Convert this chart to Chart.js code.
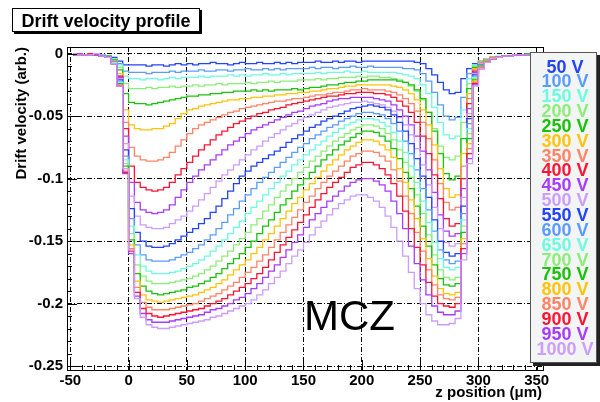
<!DOCTYPE html>
<html>
<head>
<meta charset="utf-8">
<title>Drift velocity profile</title>
<script src="https://cdn.jsdelivr.net/npm/chart.js@4.4.0/dist/chart.umd.min.js"></script>
<style>
  html, body { margin: 0; padding: 0; background: #fff; }
  #wrap { width: 600px; height: 402px; }
</style>
</head>
<body>
<div id="wrap"><canvas id="driftChart" width="600" height="402"></canvas></div>
<script>
// bin centres (um), 5 um bins from -50 to 350
const zPos = [-47.5, -42.5, -37.5, -32.5, -27.5, -22.5, -17.5, -12.5, -7.5, -2.5,
  2.5, 7.5, 12.5, 17.5, 22.5, 27.5, 32.5, 37.5, 42.5, 47.5,
  52.5, 57.5, 62.5, 67.5, 72.5, 77.5, 82.5, 87.5, 92.5, 97.5,
  102.5, 107.5, 112.5, 117.5, 122.5, 127.5, 132.5, 137.5, 142.5, 147.5,
  152.5, 157.5, 162.5, 167.5, 172.5, 177.5, 182.5, 187.5, 192.5, 197.5,
  202.5, 207.5, 212.5, 217.5, 222.5, 227.5, 232.5, 237.5, 242.5, 247.5,
  252.5, 257.5, 262.5, 267.5, 272.5, 277.5, 282.5, 287.5, 292.5, 297.5,
  302.5, 307.5, 312.5, 317.5, 322.5, 327.5, 332.5, 337.5, 342.5, 347.5];

// drift velocity (arb.) per bias voltage
const v50 = [-0.001, 0.000, -0.001, 0.000, -0.001, -0.001, -0.002,
  -0.003, -0.006, -0.009, -0.009, -0.009,
  -0.009, -0.010, -0.009, -0.009, -0.010, -0.009, -0.008, -0.009,
  -0.008, -0.009, -0.008, -0.008, -0.007, -0.008, -0.008, -0.009, -0.008, -0.007, -0.008, -0.008, -0.007, -0.008, -0.008, -0.007, -0.008, -0.007, -0.008, -0.007,
  -0.007, -0.007, -0.006, -0.007, -0.007, -0.006, -0.007, -0.006, -0.006, -0.007, -0.006, -0.006, -0.006, -0.006,
  -0.006, -0.006, -0.006, -0.006, -0.006, -0.007, -0.008, -0.012, -0.017, -0.023, -0.029, -0.032, -0.031,
  -0.020, -0.012, -0.008, -0.006, -0.004, -0.003, -0.003, -0.002, -0.002, -0.001, -0.001, -0.001, 0.000];
const v100 = [0.000, -0.001, -0.001, 0.000, -0.001, -0.002, -0.002,
  -0.004, -0.008, -0.014, -0.015, -0.015,
  -0.015, -0.016, -0.015, -0.015, -0.015, -0.014, -0.015, -0.014,
  -0.014, -0.014, -0.013, -0.014, -0.014, -0.013, -0.013, -0.014, -0.013, -0.013, -0.012, -0.013, -0.013, -0.012, -0.013, -0.012, -0.013, -0.012, -0.012, -0.012,
  -0.012, -0.011, -0.012, -0.011, -0.011, -0.012, -0.011, -0.011, -0.010, -0.011, -0.011, -0.010, -0.011, -0.011,
  -0.011, -0.011, -0.011, -0.012, -0.012, -0.013, -0.016, -0.022, -0.031, -0.041, -0.050, -0.053, -0.051,
  -0.035, -0.016, -0.009, -0.006, -0.004, -0.003, -0.003, -0.002, -0.002, -0.001, -0.001, 0.000, -0.001];
const v150 = [-0.001, 0.000, -0.001, -0.001, 0.000, -0.001, -0.002,
  -0.004, -0.009, -0.018, -0.020, -0.020,
  -0.021, -0.020, -0.020, -0.021, -0.020, -0.019, -0.020, -0.019,
  -0.019, -0.019, -0.018, -0.019, -0.018, -0.018, -0.018, -0.017, -0.018, -0.017, -0.018, -0.017, -0.017, -0.016, -0.017, -0.017, -0.016, -0.017, -0.016, -0.016,
  -0.016, -0.016, -0.015, -0.016, -0.015, -0.015, -0.015, -0.014, -0.015, -0.015, -0.014, -0.015, -0.015, -0.015,
  -0.015, -0.015, -0.016, -0.017, -0.018, -0.020, -0.025, -0.032, -0.043, -0.055, -0.065, -0.068, -0.066,
  -0.045, -0.020, -0.009, -0.006, -0.004, -0.003, -0.002, -0.002, -0.002, -0.001, -0.001, -0.001, 0.000];
const v200 = [0.000, -0.001, -0.001, 0.000, -0.001, -0.002, -0.002,
  -0.005, -0.011, -0.024, -0.028, -0.028,
  -0.028, -0.027, -0.028, -0.027, -0.027, -0.026, -0.027, -0.026,
  -0.026, -0.025, -0.026, -0.025, -0.025, -0.024, -0.025, -0.024, -0.024, -0.024, -0.023, -0.024, -0.023, -0.023, -0.022, -0.023, -0.022, -0.022, -0.022, -0.021,
  -0.021, -0.021, -0.020, -0.021, -0.020, -0.020, -0.019, -0.019, -0.019, -0.018, -0.019, -0.018, -0.018, -0.019,
  -0.019, -0.020, -0.021, -0.023, -0.026, -0.030, -0.037, -0.047, -0.060, -0.074, -0.083, -0.085, -0.082,
  -0.055, -0.024, -0.010, -0.006, -0.004, -0.003, -0.003, -0.002, -0.002, -0.001, -0.001, -0.001, 0.000];
const v250 = [-0.001, 0.000, -0.001, -0.001, -0.001, -0.002, -0.002,
  -0.005, -0.013, -0.032, -0.039, -0.040,
  -0.040, -0.041, -0.040, -0.039, -0.038, -0.037, -0.036, -0.035,
  -0.034, -0.034, -0.033, -0.033, -0.032, -0.032, -0.031, -0.031, -0.030, -0.030, -0.030, -0.029, -0.030, -0.029, -0.030, -0.029, -0.029, -0.029, -0.028, -0.029,
  -0.028, -0.027, -0.027, -0.026, -0.025, -0.025, -0.024, -0.023, -0.023, -0.022, -0.022, -0.021, -0.021, -0.021,
  -0.021, -0.021, -0.022, -0.023, -0.025, -0.029, -0.036, -0.047, -0.062, -0.080, -0.096, -0.101, -0.098,
  -0.068, -0.028, -0.011, -0.007, -0.005, -0.003, -0.003, -0.002, -0.002, -0.001, -0.001, 0.000, -0.001];
const v300 = [0.000, -0.001, -0.001, -0.001, 0.000, -0.002, -0.003,
  -0.006, -0.016, -0.045, -0.057, -0.060,
  -0.061, -0.061, -0.060, -0.060, -0.058, -0.056, -0.052, -0.048,
  -0.045, -0.044, -0.042, -0.041, -0.040, -0.039, -0.038, -0.037, -0.037, -0.036, -0.036, -0.035, -0.035, -0.034, -0.034, -0.033, -0.033, -0.032, -0.032, -0.031,
  -0.031, -0.030, -0.030, -0.029, -0.028, -0.028, -0.027, -0.026, -0.026, -0.025, -0.025, -0.025, -0.025, -0.025,
  -0.025, -0.026, -0.027, -0.029, -0.032, -0.037, -0.045, -0.057, -0.073, -0.092, -0.108, -0.115, -0.113,
  -0.080, -0.032, -0.012, -0.007, -0.005, -0.003, -0.003, -0.002, -0.002, -0.001, -0.001, -0.001, 0.000];
const v350 = [-0.001, 0.000, -0.001, -0.001, -0.001, -0.002, -0.003,
  -0.006, -0.018, -0.055, -0.075, -0.082,
  -0.085, -0.086, -0.086, -0.085, -0.083, -0.079, -0.074, -0.069,
  -0.064, -0.060, -0.057, -0.055, -0.053, -0.051, -0.049, -0.047, -0.046, -0.044, -0.043, -0.042, -0.041, -0.040, -0.039, -0.038, -0.038, -0.037, -0.036, -0.036,
  -0.035, -0.034, -0.033, -0.033, -0.032, -0.031, -0.031, -0.030, -0.029, -0.029, -0.028, -0.029, -0.029, -0.029,
  -0.030, -0.031, -0.033, -0.036, -0.040, -0.046, -0.055, -0.068, -0.085, -0.104, -0.119, -0.125, -0.123,
  -0.090, -0.036, -0.013, -0.007, -0.005, -0.003, -0.003, -0.002, -0.002, -0.001, -0.001, -0.001, 0.000];
const v400 = [0.000, -0.001, -0.001, 0.000, -0.001, -0.002, -0.003,
  -0.007, -0.018, -0.060, -0.090, -0.103,
  -0.107, -0.109, -0.110, -0.109, -0.107, -0.103, -0.097, -0.092,
  -0.087, -0.082, -0.077, -0.073, -0.069, -0.065, -0.062, -0.059, -0.056, -0.054, -0.052, -0.050, -0.048, -0.047, -0.045, -0.044, -0.043, -0.041, -0.040, -0.039,
  -0.038, -0.037, -0.036, -0.035, -0.034, -0.034, -0.033, -0.032, -0.032, -0.031, -0.031, -0.031, -0.032, -0.032,
  -0.033, -0.035, -0.038, -0.042, -0.047, -0.055, -0.066, -0.080, -0.097, -0.116, -0.132, -0.138, -0.136,
  -0.100, -0.040, -0.014, -0.008, -0.005, -0.004, -0.003, -0.002, -0.002, -0.001, -0.001, -0.001, 0.000];
const v450 = [-0.001, 0.000, -0.001, -0.001, 0.000, -0.002, -0.003,
  -0.007, -0.019, -0.066, -0.103, -0.119,
  -0.125, -0.127, -0.128, -0.127, -0.125, -0.121, -0.115, -0.109,
  -0.103, -0.098, -0.093, -0.089, -0.085, -0.081, -0.077, -0.073, -0.070, -0.067, -0.064, -0.061, -0.059, -0.057, -0.055, -0.053, -0.051, -0.049, -0.047, -0.046,
  -0.044, -0.042, -0.041, -0.040, -0.038, -0.037, -0.036, -0.036, -0.035, -0.035, -0.035, -0.035, -0.036, -0.037,
  -0.038, -0.041, -0.045, -0.050, -0.057, -0.066, -0.078, -0.093, -0.111, -0.129, -0.142, -0.146, -0.144,
  -0.108, -0.044, -0.015, -0.008, -0.005, -0.004, -0.003, -0.002, -0.002, -0.001, -0.001, -0.001, 0.000];
const v500 = [0.000, -0.001, -0.001, -0.001, -0.001, -0.002, -0.003,
  -0.007, -0.020, -0.072, -0.114, -0.130,
  -0.137, -0.139, -0.140, -0.140, -0.139, -0.136, -0.133, -0.130,
  -0.126, -0.122, -0.117, -0.112, -0.107, -0.102, -0.097, -0.093, -0.089, -0.085, -0.081, -0.077, -0.074, -0.070, -0.067, -0.064, -0.061, -0.058, -0.056, -0.053,
  -0.051, -0.049, -0.047, -0.045, -0.043, -0.042, -0.041, -0.040, -0.039, -0.039, -0.038, -0.039, -0.040, -0.041,
  -0.043, -0.046, -0.051, -0.057, -0.065, -0.076, -0.089, -0.105, -0.123, -0.140, -0.151, -0.154, -0.152,
  -0.115, -0.048, -0.016, -0.008, -0.005, -0.004, -0.003, -0.002, -0.002, -0.001, -0.001, -0.001, 0.000];
const v550 = [-0.001, 0.000, -0.001, 0.000, -0.001, -0.002, -0.003,
  -0.007, -0.021, -0.077, -0.124, -0.143,
  -0.150, -0.154, -0.155, -0.155, -0.154, -0.152, -0.149, -0.146,
  -0.143, -0.140, -0.136, -0.132, -0.127, -0.122, -0.116, -0.110, -0.104, -0.098, -0.094, -0.090, -0.087, -0.084, -0.081, -0.078, -0.075, -0.071, -0.068, -0.065,
  -0.062, -0.059, -0.057, -0.054, -0.052, -0.050, -0.048, -0.046, -0.044, -0.043, -0.042, -0.041, -0.042, -0.043,
  -0.045, -0.049, -0.055, -0.062, -0.072, -0.084, -0.098, -0.115, -0.133, -0.150, -0.159, -0.162, -0.160,
  -0.122, -0.052, -0.017, -0.009, -0.006, -0.004, -0.003, -0.002, -0.002, -0.001, -0.001, -0.001, 0.000];
const v600 = [0.000, -0.001, -0.001, -0.001, 0.000, -0.002, -0.003,
  -0.007, -0.022, -0.082, -0.132, -0.153,
  -0.161, -0.165, -0.166, -0.166, -0.166, -0.165, -0.163, -0.161,
  -0.159, -0.156, -0.153, -0.149, -0.145, -0.140, -0.135, -0.129, -0.124, -0.118, -0.113, -0.108, -0.103, -0.099, -0.095, -0.091, -0.087, -0.083, -0.079, -0.075,
  -0.072, -0.068, -0.065, -0.062, -0.059, -0.057, -0.054, -0.052, -0.050, -0.048, -0.047, -0.047, -0.048, -0.049,
  -0.052, -0.056, -0.062, -0.070, -0.080, -0.093, -0.108, -0.125, -0.142, -0.157, -0.165, -0.168, -0.166,
  -0.128, -0.056, -0.018, -0.009, -0.006, -0.004, -0.003, -0.002, -0.002, -0.001, -0.001, -0.001, 0.000];
const v650 = [-0.001, 0.000, -0.001, -0.001, -0.001, -0.002, -0.003,
  -0.007, -0.023, -0.085, -0.138, -0.161,
  -0.170, -0.174, -0.176, -0.176, -0.176, -0.175, -0.174, -0.172,
  -0.170, -0.168, -0.165, -0.162, -0.158, -0.154, -0.149, -0.144, -0.139, -0.134, -0.128, -0.123, -0.118, -0.113, -0.108, -0.103, -0.098, -0.094, -0.089, -0.085,
  -0.081, -0.077, -0.073, -0.070, -0.066, -0.063, -0.060, -0.057, -0.055, -0.053, -0.052, -0.052, -0.053, -0.055,
  -0.058, -0.063, -0.070, -0.079, -0.090, -0.103, -0.118, -0.135, -0.151, -0.164, -0.171, -0.173, -0.171,
  -0.133, -0.060, -0.019, -0.010, -0.006, -0.004, -0.003, -0.002, -0.002, -0.001, -0.001, -0.001, 0.000];
const v700 = [0.000, -0.001, -0.001, 0.000, -0.001, -0.002, -0.003,
  -0.008, -0.024, -0.088, -0.144, -0.169,
  -0.178, -0.182, -0.184, -0.184, -0.184, -0.183, -0.182, -0.181,
  -0.180, -0.178, -0.176, -0.173, -0.170, -0.166, -0.162, -0.158, -0.153, -0.148, -0.143, -0.137, -0.132, -0.126, -0.121, -0.115, -0.110, -0.105, -0.100, -0.095,
  -0.091, -0.086, -0.082, -0.078, -0.074, -0.070, -0.067, -0.064, -0.061, -0.059, -0.057, -0.057, -0.058, -0.060,
  -0.064, -0.069, -0.077, -0.087, -0.099, -0.113, -0.128, -0.145, -0.161, -0.173, -0.179, -0.181, -0.179,
  -0.138, -0.064, -0.020, -0.010, -0.006, -0.004, -0.003, -0.002, -0.002, -0.001, -0.001, -0.001, 0.000];
const v750 = [-0.001, 0.000, -0.001, -0.001, -0.001, -0.002, -0.003,
  -0.008, -0.024, -0.090, -0.149, -0.176,
  -0.186, -0.190, -0.192, -0.193, -0.192, -0.191, -0.190, -0.189,
  -0.187, -0.186, -0.184, -0.182, -0.179, -0.176, -0.172, -0.168, -0.164, -0.160, -0.155, -0.150, -0.144, -0.138, -0.133, -0.127, -0.121, -0.116, -0.110, -0.105,
  -0.100, -0.095, -0.090, -0.085, -0.081, -0.077, -0.073, -0.070, -0.067, -0.064, -0.062, -0.062, -0.063, -0.066,
  -0.070, -0.076, -0.084, -0.095, -0.108, -0.122, -0.138, -0.154, -0.169, -0.180, -0.185, -0.186, -0.184,
  -0.143, -0.068, -0.021, -0.010, -0.006, -0.004, -0.003, -0.002, -0.002, -0.001, -0.001, -0.001, 0.000];
const v800 = [0.000, -0.001, -0.001, -0.001, 0.000, -0.002, -0.003,
  -0.008, -0.025, -0.092, -0.153, -0.182,
  -0.193, -0.197, -0.198, -0.199, -0.198, -0.197, -0.196, -0.195,
  -0.194, -0.193, -0.191, -0.189, -0.187, -0.184, -0.181, -0.177, -0.173, -0.169, -0.165, -0.160, -0.155, -0.149, -0.144, -0.138, -0.132, -0.126, -0.120, -0.115,
  -0.109, -0.104, -0.099, -0.094, -0.089, -0.085, -0.081, -0.077, -0.074, -0.071, -0.069, -0.069, -0.070, -0.073,
  -0.077, -0.083, -0.092, -0.103, -0.117, -0.132, -0.148, -0.164, -0.178, -0.188, -0.192, -0.193, -0.191,
  -0.148, -0.072, -0.022, -0.011, -0.006, -0.004, -0.003, -0.002, -0.002, -0.001, -0.001, -0.001, 0.000];
const v850 = [-0.001, 0.000, -0.001, -0.001, -0.001, -0.002, -0.003,
  -0.008, -0.025, -0.094, -0.156, -0.187,
  -0.199, -0.203, -0.205, -0.205, -0.205, -0.204, -0.203, -0.202,
  -0.201, -0.200, -0.198, -0.196, -0.194, -0.192, -0.189, -0.186, -0.183, -0.179, -0.175, -0.171, -0.166, -0.161, -0.155, -0.149, -0.143, -0.137, -0.131, -0.125,
  -0.119, -0.114, -0.108, -0.103, -0.098, -0.094, -0.090, -0.086, -0.082, -0.080, -0.078, -0.078, -0.079, -0.082,
  -0.086, -0.093, -0.102, -0.114, -0.128, -0.143, -0.158, -0.173, -0.185, -0.193, -0.196, -0.197, -0.195,
  -0.152, -0.076, -0.023, -0.011, -0.007, -0.004, -0.003, -0.002, -0.002, -0.001, -0.001, -0.001, 0.000];
const v900 = [0.000, -0.001, -0.001, 0.000, -0.001, -0.002, -0.003,
  -0.008, -0.026, -0.095, -0.158, -0.191,
  -0.204, -0.208, -0.210, -0.211, -0.210, -0.209, -0.208, -0.207,
  -0.206, -0.205, -0.204, -0.202, -0.200, -0.198, -0.196, -0.193, -0.190, -0.187, -0.184, -0.180, -0.176, -0.171, -0.165, -0.159, -0.153, -0.147, -0.141, -0.135,
  -0.129, -0.123, -0.117, -0.112, -0.107, -0.103, -0.099, -0.095, -0.091, -0.089, -0.087, -0.087, -0.089, -0.092,
  -0.097, -0.104, -0.114, -0.126, -0.140, -0.155, -0.169, -0.183, -0.194, -0.200, -0.202, -0.203, -0.200,
  -0.156, -0.080, -0.024, -0.012, -0.007, -0.004, -0.003, -0.002, -0.002, -0.001, -0.001, -0.001, 0.000];
const v950 = [-0.001, 0.000, -0.001, -0.001, -0.001, -0.002, -0.003,
  -0.008, -0.026, -0.096, -0.160, -0.194,
  -0.208, -0.213, -0.215, -0.215, -0.215, -0.214, -0.213, -0.212,
  -0.211, -0.210, -0.209, -0.207, -0.205, -0.204, -0.202, -0.200, -0.197, -0.195, -0.192, -0.188, -0.184, -0.179, -0.174, -0.169, -0.163, -0.157, -0.151, -0.145,
  -0.139, -0.133, -0.128, -0.123, -0.118, -0.114, -0.110, -0.106, -0.103, -0.101, -0.100, -0.100, -0.102, -0.105,
  -0.110, -0.118, -0.128, -0.140, -0.154, -0.168, -0.181, -0.193, -0.202, -0.207, -0.209, -0.209, -0.206,
  -0.160, -0.084, -0.025, -0.012, -0.007, -0.004, -0.003, -0.002, -0.002, -0.001, -0.001, -0.001, 0.000];
const v1000 = [0.000, -0.001, -0.001, -0.001, 0.000, -0.002, -0.003,
  -0.008, -0.026, -0.092, -0.157, -0.196,
  -0.211, -0.217, -0.219, -0.220, -0.220, -0.219, -0.218, -0.217,
  -0.216, -0.215, -0.214, -0.213, -0.211, -0.210, -0.208, -0.206, -0.204, -0.202, -0.200, -0.197, -0.193, -0.189, -0.184, -0.179, -0.174, -0.168, -0.162, -0.157,
  -0.151, -0.145, -0.139, -0.134, -0.129, -0.124, -0.120, -0.117, -0.114, -0.113, -0.113, -0.115, -0.118, -0.123,
  -0.130, -0.139, -0.150, -0.162, -0.175, -0.188, -0.200, -0.209, -0.214, -0.217, -0.217, -0.216, -0.212,
  -0.165, -0.088, -0.026, -0.012, -0.007, -0.004, -0.003, -0.002, -0.002, -0.001, -0.001, -0.001, 0.000];

const biasLabels = ['50 V', '100 V', '150 V', '200 V', '250 V', '300 V', '350 V', '400 V', '450 V', '500 V',
  '550 V', '600 V', '650 V', '700 V', '750 V', '800 V', '850 V', '900 V', '950 V', '1000 V'];
const palette = ['#2243ff', '#5a9cff', '#6cfcdf', '#8cee78', '#19c30a', '#ffc40a', '#ff8468', '#ff1434', '#a83cff', '#cc9dff'];

const series = [v50, v100, v150, v200, v250, v300, v350, v400, v450, v500,
  v550, v600, v650, v700, v750, v800, v850, v900, v950, v1000];
series.forEach((s, i) => { if (s.length !== zPos.length) throw new Error('bad length ' + biasLabels[i] + ' ' + s.length); });

const FONT = '"Liberation Sans", Arial, sans-serif';

const rootStyle = {
  id: 'rootStyle',
  afterDatasetsDraw(chart) {
    const {ctx, chartArea: a, scales: {x, y}} = chart;
    ctx.save();
    ctx.strokeStyle = '#000';
    ctx.lineWidth = 1;
    ctx.beginPath();
    // ticks on the x axis, pointing up into the frame
    for (let z = -50; z <= 350; z += 10) {
      const px = Math.round(x.getPixelForValue(z)) + 0.5;
      const len = z % 50 === 0 ? 10 : 5;
      ctx.moveTo(px, a.bottom);
      ctx.lineTo(px, a.bottom - len);
    }
    // ticks on the y axis, pointing right
    for (let k = 0; k <= 25; k++) {
      const py = Math.round(y.getPixelForValue(-k / 100)) + 0.5;
      const len = k % 5 === 0 ? 10 : 5;
      ctx.moveTo(a.left, py);
      ctx.lineTo(a.left + len, py);
    }
    ctx.stroke();
    ctx.strokeRect(Math.round(a.left) + 0.5, Math.round(a.top) + 0.5,
      Math.round(a.right - a.left), Math.round(a.bottom - a.top));
    ctx.restore();
  },
  afterDraw(chart) {
    const {ctx} = chart;
    ctx.save();

    // title pave
    ctx.fillStyle = '#000';
    ctx.fillRect(14, 10, 188, 24);
    ctx.fillStyle = '#fff';
    ctx.fillRect(12, 8, 188, 24);
    ctx.strokeStyle = '#000';
    ctx.lineWidth = 1;
    ctx.strokeRect(12.5, 8.5, 187, 23);
    ctx.fillStyle = '#000';
    ctx.font = 'bold 18px ' + FONT;
    ctx.textAlign = 'center';
    ctx.textBaseline = 'alphabetic';
    ctx.fillText('Drift velocity profile', 106, 27);

    // axis titles
    ctx.font = 'bold 15px ' + FONT;
    ctx.textAlign = 'right';
    ctx.fillText('z position (\u03bcm)', 542, 397);
    ctx.save();
    ctx.translate(25.5, 47);
    ctx.rotate(-Math.PI / 2);
    ctx.font = 'bold 15px ' + FONT;
    ctx.textAlign = 'right';
    ctx.fillText('Drift velocity (arb.)', 0, 0);
    ctx.restore();

    // sample label
    ctx.font = '42px ' + FONT;
    ctx.textAlign = 'left';
    ctx.fillText('MCZ', 304, 330);

    // legend pave
    ctx.fillStyle = '#222';
    ctx.fillRect(533, 55, 67, 311);
    ctx.fillStyle = '#f3f4f4';
    ctx.fillRect(530, 52, 67, 311);
    ctx.strokeStyle = '#555';
    ctx.strokeRect(530.5, 52.5, 66, 310);
    ctx.font = 'bold 18px ' + FONT;
    ctx.textAlign = 'center';
    chart.data.datasets.forEach((ds, i) => {
      ctx.fillStyle = ds.borderColor;
      ctx.fillText(ds.label, 565, 72.5 + i * 14.85);
    });
    ctx.restore();
  }
};

const ctx = document.getElementById('driftChart');

new Chart(ctx, {
  type: 'line',
  data: {
    datasets: series.map((vals, i) => ({
      label: biasLabels[i],
      data: vals.map((v, k) => ({x: zPos[k], y: v})),
      borderColor: palette[i % palette.length],
      borderWidth: 1.3,
      pointRadius: 0,
      stepped: 'middle',
      fill: false,
      order: series.length - i
    }))
  },
  options: {
    responsive: false,
    maintainAspectRatio: false,
    animation: false,
    devicePixelRatio: 1,
    layout: { padding: { top: 47, right: 57, left: 0, bottom: 0 } },
    plugins: {
      legend: { display: false },
      tooltip: { enabled: false },
      title: { display: false }
    },
    scales: {
      x: {
        type: 'linear',
        min: -52.8,
        max: 355.4,
        afterFit: s => { s.height = 32; },
        grid: { color: '#000', lineWidth: 1, drawTicks: false },
        border: { display: false, dash: [5, 2, 1, 2] },
        ticks: {
          stepSize: 50,
          includeBounds: false,
          autoSkip: false,
          maxRotation: 0,
          padding: 2,
          color: '#000',
          font: { family: FONT, weight: 'bold', size: 15 },
          callback: v => String(v)
        }
      },
      y: {
        type: 'linear',
        min: -0.2532,
        max: 0.0053,
        afterFit: s => { s.width = 67; },
        grid: { color: '#000', lineWidth: 1, drawTicks: false },
        border: { display: false, dash: [5, 2, 1, 2] },
        ticks: {
          stepSize: 0.05,
          includeBounds: false,
          padding: 4,
          color: '#000',
          font: { family: FONT, weight: 'bold', size: 15 },
          callback: v => String(Math.round(v * 100) / 100)
        }
      }
    }
  },
  plugins: [rootStyle]
});
</script>
</body>
</html>
